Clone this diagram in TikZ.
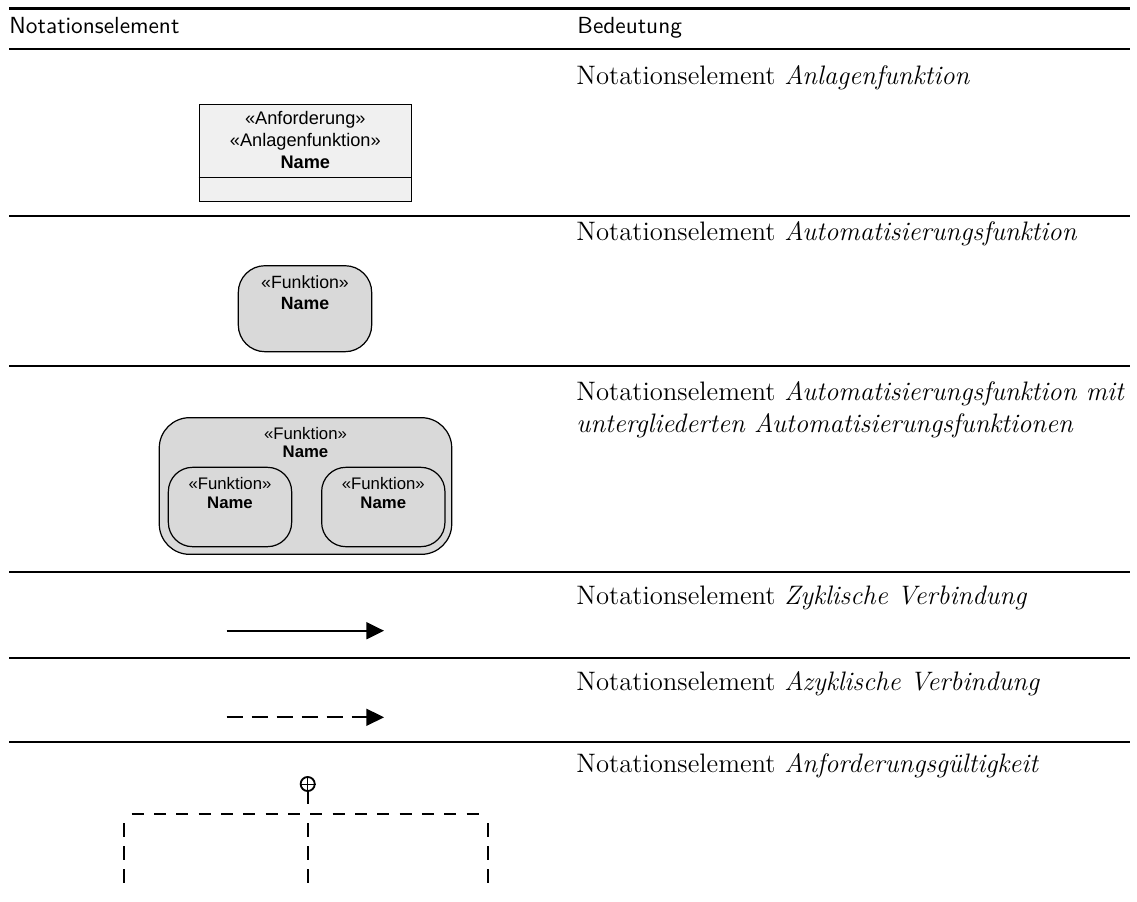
\documentclass[tikz,border=0pt]{standalone}
\usepackage{fontspec}
\newfontfamily\arialfont{Liberation Sans}
\usetikzlibrary{arrows.meta}
\definecolor{afill}{HTML}{F0F0F0}
\definecolor{ffill}{HTML}{D9D9D9}
\tikzset{
  heavyrule/.style={line width=1pt},
  lightrule/.style={line width=0.55pt},
  hdr/.style={anchor=base west, inner sep=0pt, font=\sffamily\fontsize{9.6}{11}\selectfont},
  desc/.style={anchor=base west, inner sep=0pt, font=\fontsize{11}{13.6}\selectfont},
  reqbox/.style={draw, line width=0.45pt, fill=afill, inner sep=0pt},
  fnbox/.style={draw, line width=0.5pt, fill=ffill, inner sep=0pt},
  lbl/.style={anchor=base, inner sep=0pt},
  conn/.style={line width=0.85pt, -{Triangle[length=7.3pt,width=7pt]}},
  grp/.style={line width=0.8pt},
}
\begin{document}
\begin{tikzpicture}[x=0.412pt, y=-0.412pt]
\useasboundingbox (0,0) rectangle (1137,902);

% table rules
\coordinate (t0l) at (9,8.5);   \coordinate (t0r) at (1130,8.5);
\coordinate (t1l) at (9,49);    \coordinate (t1r) at (1130,49);
\coordinate (t2l) at (9,216);   \coordinate (t2r) at (1130,216);
\coordinate (t3l) at (9,366);   \coordinate (t3r) at (1130,366);
\coordinate (t4l) at (9,572);   \coordinate (t4r) at (1130,572);
\coordinate (t5l) at (9,658);   \coordinate (t5r) at (1130,658);
\coordinate (t6l) at (9,742);   \coordinate (t6r) at (1130,742);
\draw[heavyrule] (t0l) -- (t0r);
\draw[lightrule] (t1l) -- (t1r);
\draw[lightrule] (t2l) -- (t2r);
\draw[lightrule] (t3l) -- (t3r);
\draw[lightrule] (t4l) -- (t4r);
\draw[lightrule] (t5l) -- (t5r);
\draw[lightrule] (t6l) -- (t6r);

% header
\node[hdr] (hleft) at (9,33.5) {Notationselement};
\node[hdr] (hright) at (577,33.5) {Bedeutung};

% descriptions
\node[desc] (d1) at (576,84.5) {Notationselement \textit{Anlagenfunktion}};
\node[desc] (d2) at (576,240) {Notationselement \textit{Automatisierungsfunktion}};
\node[desc] (d3a) at (576,400) {Notationselement \textit{Automatisierungsfunktion mit}};
\node[desc] (d3b) at (576,432.5) {\textit{untergliederten Automatisierungsfunktionen}};
\node[desc] (d4) at (576,604) {Notationselement \textit{Zyklische Verbindung}};
\node[desc] (d5) at (576,690) {Notationselement \textit{Azyklische Verbindung}};
\node[desc] (d6) at (576,772) {Notationselement \textit{Anforderungsgültigkeit}};

% plant function block
\node[reqbox, minimum width=87.5pt, minimum height=39.85pt] (b1) at (305.3,152.7) {};
\draw[line width=0.45pt] ([yshift=9.76pt]b1.south west) -- ([yshift=9.76pt]b1.south east);
\begin{scope}[every node/.style={lbl, font=\arialfont\fontsize{7.5}{9}\selectfont}]
\node (b1s1) at (305.3,124.5) {«Anforderung»};
\node (b1s2) at (305.3,146.5) {«Anlagenfunktion»};
\node (b1n)  at (305.3,168.5) {\bfseries Name};
\end{scope}

% automation function
\node[fnbox, minimum width=54.96pt, minimum height=35.43pt, rounded corners=11pt] (b2) at (305,308.7) {};
\begin{scope}[every node/.style={lbl, font=\arialfont\fontsize{7.3}{9}\selectfont}]
\node (b2s) at (305,288.5) {«Funktion»};
\node (b2n) at (305,309.5) {\bfseries Name};
\end{scope}

% automation function with sub-functions
\node[fnbox, minimum width=120.5pt, minimum height=56.3pt, rounded corners=12.5pt] (b3) at (305.5,486) {};
\node[fnbox, minimum width=50.8pt, minimum height=32.7pt, rounded corners=10pt] (b3l) at (230,507) {};
\node[fnbox, minimum width=50.8pt, minimum height=32.7pt, rounded corners=10pt] (b3r) at (383.3,507) {};
\begin{scope}[every node/.style={lbl, font=\arialfont\fontsize{6.9}{8.5}\selectfont}]
\node (b3s) at (305.5,439.5) {«Funktion»};
\node (b3n) at (305.5,457.5) {\bfseries Name};
\node (b3ls) at (230,489.5) {«Funktion»};
\node (b3ln) at (230,508.5) {\bfseries Name};
\node (b3rs) at (383.3,489.5) {«Funktion»};
\node (b3rn) at (383.3,508.5) {\bfseries Name};
\end{scope}

% cyclic connection
\coordinate (c1a) at (226.7,630.7);
\coordinate (c1b) at (384,630.7);
\draw[conn] (c1a) -- (c1b);

% acyclic connection
\coordinate (c2a) at (226.7,717.3);
\coordinate (c2b) at (384,717.3);
\draw[conn, dash pattern=on 6.6pt off 3.7pt] (c2a) -- (c2b);

% requirement validity
\node[circle, draw, line width=0.75pt, minimum size=5.8pt, inner sep=0pt] (v) at (307.7,784) {};
\draw[line width=0.4pt] (v.north) -- (v.south) (v.west) -- (v.east);
\coordinate (vs) at (307.7,804.3);
\draw[grp] (v.south) -- (vs);
\coordinate (hl) at (131.7,814.3);
\coordinate (hr) at (485,814.3);
\draw[grp, dash pattern=on 4.9pt off 4.3pt] (hl) -- (hr);
\coordinate (va1) at (124.3,823);   \coordinate (va2) at (124.3,885);
\coordinate (vb1) at (307.7,823);   \coordinate (vb2) at (307.7,885);
\coordinate (vc1) at (487.7,823);   \coordinate (vc2) at (487.7,885);
\draw[grp, dash pattern=on 5.8pt off 3.7pt] (va1) -- (va2);
\draw[grp, dash pattern=on 5.8pt off 3.7pt] (vb1) -- (vb2);
\draw[grp, dash pattern=on 5.8pt off 3.7pt] (vc1) -- (vc2);
\end{tikzpicture}
\end{document}
